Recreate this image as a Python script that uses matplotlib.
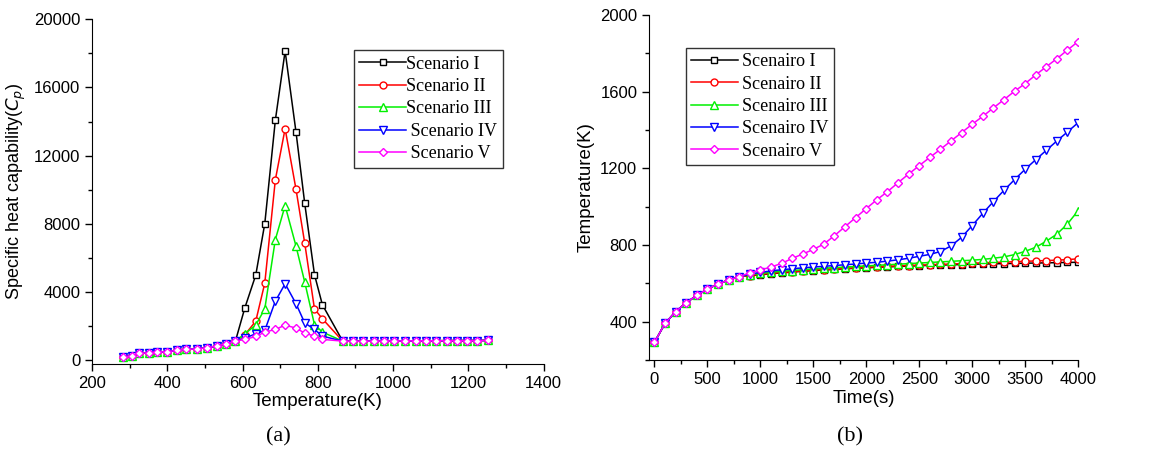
import matplotlib
matplotlib.use("Agg")
import matplotlib.pyplot as plt
from matplotlib.ticker import MultipleLocator

# ---- panel (a): specific heat vs temperature ----
temp_k = [283, 306, 326, 352, 372, 400, 427, 450, 478, 505, 531, 556, 581,
          606, 635, 659, 687, 713, 742, 765, 791, 812,
          866, 893, 920, 948, 976, 1003, 1031, 1060, 1088, 1114, 1142, 1169, 1196, 1222, 1252]
cp_low = [195, 270, 410, 450, 490, 510, 590, 640, 680, 740, 840, 975, 1130]
cp_high = [1130, 1120, 1125, 1130, 1135, 1140, 1140, 1145, 1150, 1150, 1155, 1160, 1160, 1165, 1170]
cp_peak_1 = [3080, 5000, 8020, 14070, 18130, 13370, 9220, 5030, 3260]
cp_peak_2 = [1500, 2300, 4530, 10580, 13580, 10020, 6890, 3020, 2440]
cp_peak_3 = [1560, 2070, 3020, 7080, 9070, 6690, 4600, 2100, 1660]
cp_peak_4 = [1300, 1560, 1760, 3470, 4490, 3320, 2200, 1810, 1420]
cp_peak_5 = [1230, 1400, 1660, 1810, 2070, 1890, 1600, 1420, 1230]
labels_a = ["Scenario I", "Scenario II", "Scenario III", " Scenario IV", " Scenario V"]

# ---- panel (b): temperature vs time ----
time_s = list(range(0, 4001, 100))
t_start = [292, 391, 452, 499, 537, 570, 597, 617, 635]
t_1 = [640, 645, 650, 655, 659, 663, 667, 670, 673, 676, 679, 681, 684, 686, 688, 690,
       692, 694, 695, 697, 698, 700, 701, 702, 703, 704, 705, 706, 707, 708, 709, 710]
t_2 = [641, 647, 652, 657, 661, 665, 669, 672, 675, 678, 681, 684, 686, 689, 691, 693,
       695, 697, 699, 701, 703, 705, 707, 709, 711, 713, 715, 717, 719, 721, 724, 728]
t_3 = [645, 652, 658, 663, 667, 671, 675, 679, 682, 685, 688, 691, 694, 697, 700, 703,
       706, 709, 712, 715, 718, 721, 725, 731, 738, 750, 767, 788, 820, 857, 910, 979]
t_4 = [648, 657, 665, 671, 676, 681, 685, 689, 693, 697, 701, 706, 710, 716, 723, 731,
       741, 751, 766, 795, 840, 901, 965, 1026, 1085, 1141, 1195, 1245, 1294, 1343, 1390, 1438]
t_5 = [655, 670, 685, 704, 730, 753, 777, 805, 849, 896, 943, 990, 1036, 1078, 1125, 1170,
       1214, 1257, 1299, 1343, 1386, 1430, 1471, 1515, 1558, 1602, 1642, 1687, 1730, 1772, 1817, 1861]
labels_b = ["Scenairo I", "Scenairo II", "Scenairo III", "Scenairo IV", "Scenairo V"]

COLORS = ["#000000", "#FF0000", "#00F000", "#0000FF", "#FF00FF"]
MARKERS = ["s", "o", "^", "v", "D"]
MSIZE = [4.5, 5, 5.5, 5.5, 4.5]

SANS = "Liberation Sans"
SERIF = "Liberation Serif"


def style_axes(ax):
    for s in ("top", "right"):
        ax.spines[s].set_visible(False)
    ax.tick_params(which="both", direction="out", labelsize=12, width=1)
    ax.tick_params(which="major", length=5)
    ax.tick_params(which="minor", length=3)
    for lab in ax.get_xticklabels() + ax.get_yticklabels():
        lab.set_fontfamily(SANS)


fig = plt.figure(figsize=(11.55, 4.67), dpi=100)
ax1 = fig.add_axes([0.0797, 0.221, 0.391, 0.738])
ax2 = fig.add_axes([0.562, 0.229, 0.3714, 0.739])

peaks = [cp_peak_1, cp_peak_2, cp_peak_3, cp_peak_4, cp_peak_5]
for i, pk in enumerate(peaks):
    ax1.plot(temp_k, cp_low + pk + cp_high, color=COLORS[i], lw=1.1, marker=MARKERS[i],
             ms=MSIZE[i], mfc="white", mec=COLORS[i], mew=1.0, label=labels_a[i])
ax1.set_xlim(200, 1400)
ax1.set_ylim(-200, 20000)
ax1.xaxis.set_major_locator(MultipleLocator(200))
ax1.xaxis.set_minor_locator(MultipleLocator(100))
ax1.yaxis.set_major_locator(MultipleLocator(4000))
ax1.yaxis.set_minor_locator(MultipleLocator(2000))
style_axes(ax1)
ax1.set_xlabel("Temperature(K)", fontsize=13.5, family=SANS, labelpad=2)
ax1.set_ylabel("Specific heat capability($C_p$)", fontsize=13, family=SANS, labelpad=4)
leg = ax1.legend(loc="upper left", bbox_to_anchor=(0.58, 0.91), prop={"family": SERIF, "size": 13},
                 frameon=True, fancybox=False, edgecolor="black", handlelength=2.6,
                 handletextpad=0.0, labelspacing=0.3, borderpad=0.3, borderaxespad=0)
leg.get_frame().set_linewidth(1.0)

series_b = [t_1, t_2, t_3, t_4, t_5]
for i, s in enumerate(series_b):
    ax2.plot(time_s, t_start + s, color=COLORS[i], lw=1.1, marker=MARKERS[i],
             ms=MSIZE[i], mfc="white", mec=COLORS[i], mew=1.0, label=labels_b[i])
ax2.set_xlim(-50, 4000)
ax2.set_ylim(200, 2000)
ax2.xaxis.set_major_locator(MultipleLocator(500))
ax2.xaxis.set_minor_locator(MultipleLocator(250))
ax2.yaxis.set_major_locator(MultipleLocator(400))
ax2.yaxis.set_minor_locator(MultipleLocator(200))
style_axes(ax2)
ax2.set_xlabel("Time(s)", fontsize=13.5, family=SANS, labelpad=2)
ax2.set_ylabel("Temperature(K)", fontsize=13.5, family=SANS, labelpad=4)
leg2 = ax2.legend(loc="upper left", bbox_to_anchor=(0.085, 0.905), prop={"family": SERIF, "size": 13},
                  frameon=True, fancybox=False, edgecolor="black", handlelength=2.6,
                  handletextpad=0.25, labelspacing=0.3, borderpad=0.3, borderaxespad=0)
leg2.get_frame().set_linewidth(1.0)

fig.text(0.241, 0.065, "(a)", ha="center", va="center", fontsize=16, family=SERIF)
fig.text(0.736, 0.065, "(b)", ha="center", va="center", fontsize=16, family=SERIF)

fig.savefig("out.png", dpi=100, facecolor="white")
